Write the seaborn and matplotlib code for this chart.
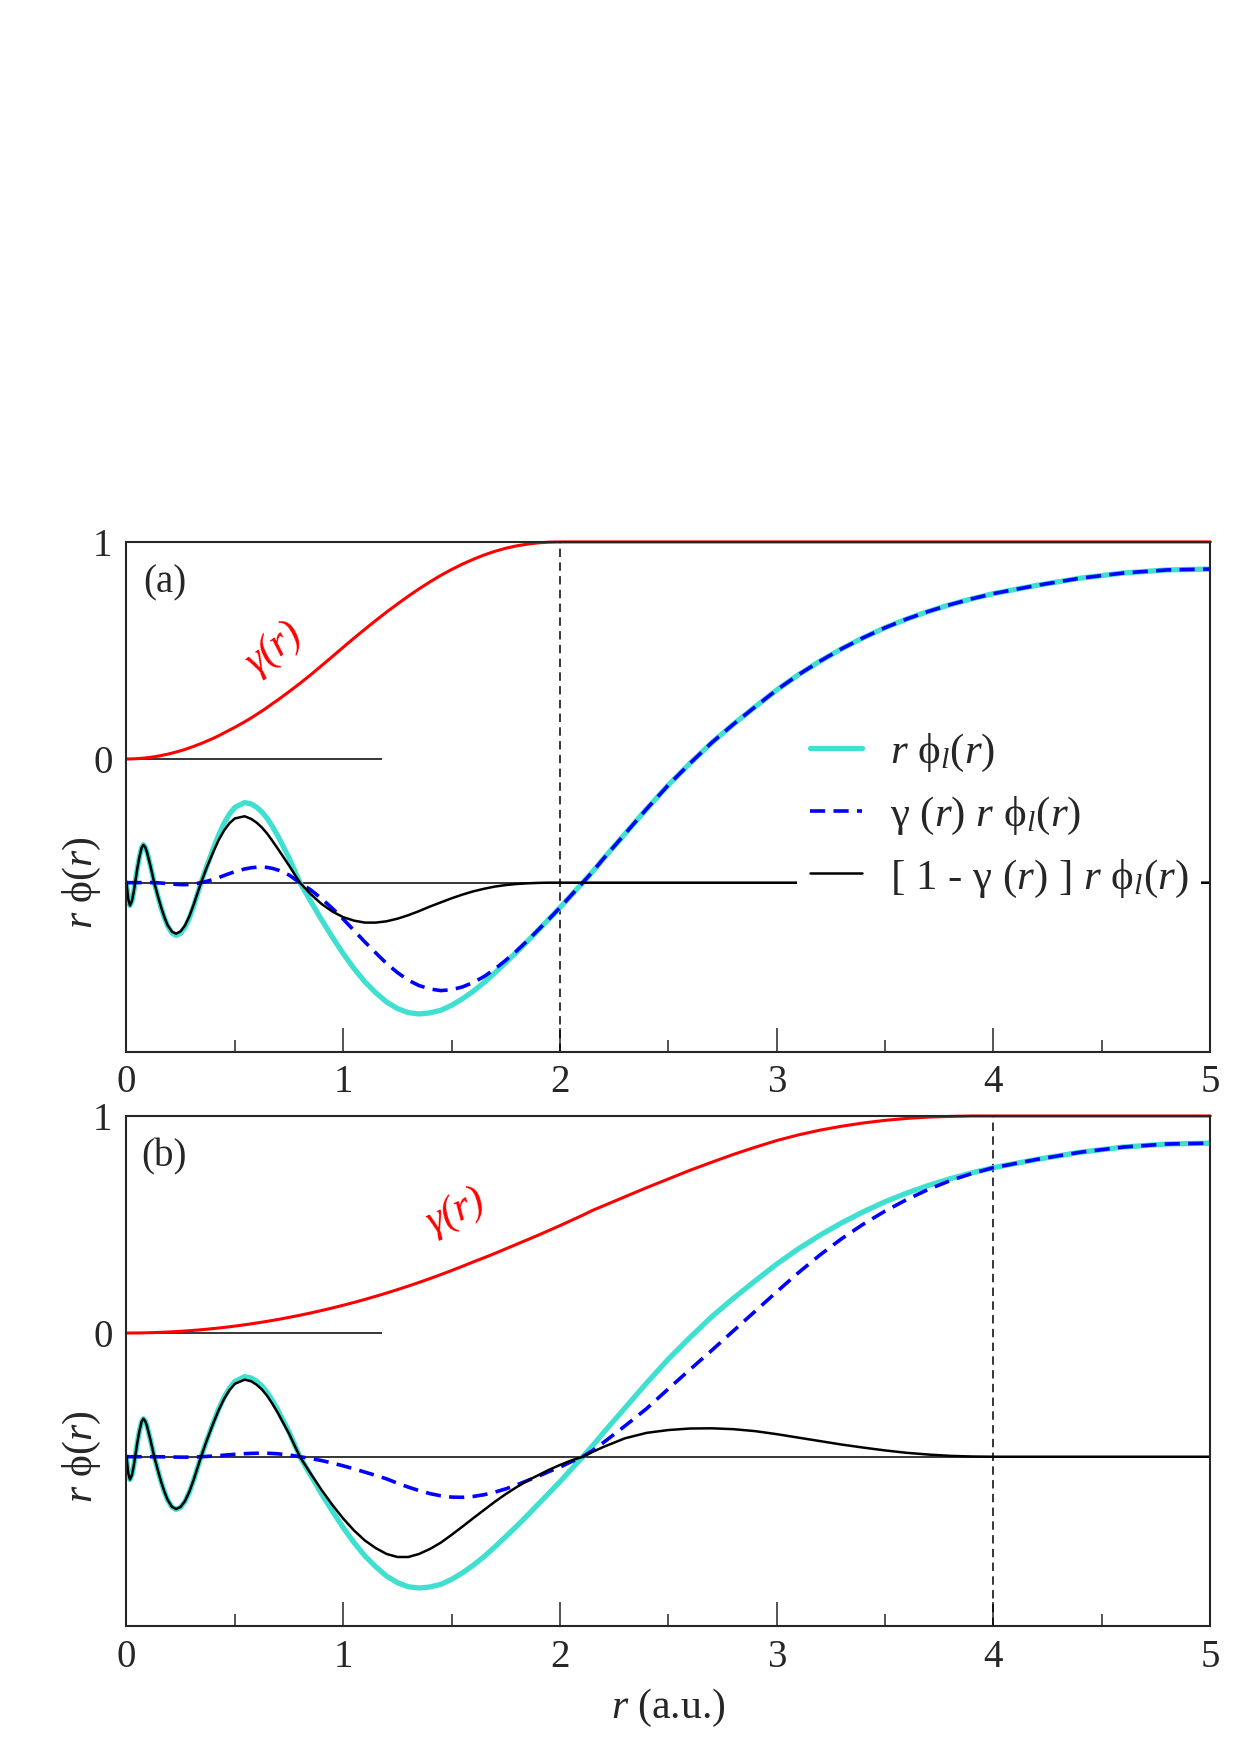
import numpy as np
import pandas as pd
import seaborn as sns
import matplotlib.pyplot as plt
from matplotlib.ticker import MultipleLocator

r_pts = [0, 0.008, 0.016, 0.025, 0.033, 0.04, 0.05, 0.06, 0.07, 0.078,
         0.087, 0.095, 0.11, 0.128, 0.145, 0.16, 0.175, 0.19, 0.21, 0.229,
         0.25, 0.27, 0.29, 0.31, 0.344, 0.37, 0.4, 0.425, 0.45, 0.475,
         0.5, 0.545, 0.575, 0.6, 0.625, 0.65, 0.675, 0.7, 0.75, 0.8,
         0.85, 0.9, 0.95, 1.0, 1.05, 1.1, 1.15, 1.2, 1.25, 1.3,
         1.35, 1.4, 1.45, 1.5, 1.55, 1.6, 1.65, 1.7, 1.75, 1.8,
         1.85, 1.9, 1.95, 2.0, 2.05, 2.105, 2.15, 2.2, 2.3, 2.4,
         2.5, 2.6, 2.7, 2.8, 2.9, 3.0, 3.1, 3.2, 3.3, 3.4,
         3.5, 3.6, 3.7, 3.8, 3.9, 4.0, 4.2, 4.4, 4.6, 4.8,
         5.0]

# r phi_l(r), same wavefunction in both panels
psi = [0, -0.075, -0.105, -0.085, -0.045, 0, 0.065, 0.12, 0.162, 0.175,
       0.163, 0.14, 0.08, 0, -0.063, -0.116, -0.162, -0.2, -0.232, -0.243,
       -0.233, -0.206, -0.163, -0.107, 0, 0.075, 0.156, 0.219, 0.273, 0.316,
       0.347, 0.369, 0.363, 0.348, 0.326, 0.295, 0.256, 0.212, 0.114, 0,
       -0.086, -0.171, -0.251, -0.327, -0.396, -0.457, -0.507, -0.55, -0.58, -0.599,
       -0.605, -0.6, -0.588, -0.565, -0.535, -0.5, -0.46, -0.415, -0.368, -0.32,
       -0.27, -0.218, -0.167, -0.115, -0.06, 0, 0.05, 0.11, 0.225, 0.34,
       0.45, 0.55, 0.645, 0.73, 0.81, 0.888, 0.958, 1.021, 1.078, 1.129,
       1.175, 1.215, 1.25, 1.281, 1.308, 1.332, 1.37, 1.403, 1.427, 1.441,
       1.445]

# panel (a): cutoff radius 2
gamma_a = [0, 0, 0.0002, 0.0004, 0.0007, 0.001, 0.0015, 0.0022, 0.003, 0.0038,
           0.0047, 0.0056, 0.0075, 0.01, 0.013, 0.0157, 0.019, 0.022, 0.027, 0.032,
           0.038, 0.044, 0.051, 0.058, 0.071, 0.082, 0.095, 0.107, 0.12, 0.133,
           0.146, 0.171, 0.189, 0.205, 0.221, 0.238, 0.256, 0.273, 0.31, 0.348,
           0.388, 0.43, 0.472, 0.515, 0.557, 0.598, 0.638, 0.677, 0.714, 0.75,
           0.784, 0.816, 0.846, 0.873, 0.898, 0.92, 0.94, 0.957, 0.971, 0.982,
           0.99, 0.996, 0.999, 1, 1, 1, 1, 1, 1, 1,
           1, 1, 1, 1, 1, 1, 1, 1, 1, 1,
           1, 1, 1, 1, 1, 1, 1, 1, 1, 1,
           1]
cut_a = [0, 0, 0, 0, 0, 0, 0.0001, 0.0003, 0.0005, 0.0007,
         0.0008, 0.0008, 0.0006, 0, -0.0008, -0.0018, -0.003, -0.0044, -0.0063, -0.0078,
         -0.0089, -0.0091, -0.0083, -0.0062, 0, 0.0062, 0.0148, 0.0234, 0.0328, 0.042,
         0.0507, 0.0631, 0.0686, 0.0713, 0.072, 0.0702, 0.0655, 0.0579, 0.0353, 0,
         -0.0334, -0.0735, -0.1185, -0.168, -0.2206, -0.2733, -0.3235, -0.3724, -0.4141, -0.4493,
         -0.4743, -0.4896, -0.4974, -0.4932, -0.4804, -0.46, -0.4324, -0.3972, -0.3573, -0.3142,
         -0.2673, -0.2171, -0.1668, -0.115, -0.06, 0, 0.05, 0.11, 0.225, 0.34,
         0.45, 0.55, 0.645, 0.73, 0.81, 0.888, 0.958, 1.021, 1.078, 1.129,
         1.175, 1.215, 1.25, 1.281, 1.308, 1.332, 1.37, 1.403, 1.427, 1.441,
         1.445]
rest_a = [0, -0.075, -0.105, -0.085, -0.045, 0, 0.065, 0.12, 0.161, 0.174,
          0.162, 0.139, 0.079, 0, -0.062, -0.114, -0.159, -0.196, -0.226, -0.235,
          -0.224, -0.197, -0.155, -0.101, 0, 0.069, 0.141, 0.196, 0.24, 0.274,
          0.296, 0.306, 0.294, 0.277, 0.254, 0.225, 0.19, 0.154, 0.079, 0,
          -0.053, -0.098, -0.133, -0.159, -0.175, -0.184, -0.184, -0.178, -0.166, -0.15,
          -0.131, -0.11, -0.091, -0.072, -0.055, -0.04, -0.028, -0.018, -0.011, -0.006,
          -0.003, -0.001, 0, 0, 0, 0, 0, 0, 0, 0,
          0, 0, 0, 0, 0, 0, 0, 0, 0, 0,
          0, 0, 0, 0, 0, 0, 0, 0, 0, 0,
          0]

# panel (b): cutoff radius 4
gamma_b = [0, 0, 0, 0.0001, 0.0001, 0.0002, 0.0003, 0.0005, 0.0006, 0.0008,
           0.001, 0.0012, 0.0015, 0.0021, 0.0027, 0.0033, 0.0039, 0.0046, 0.0056, 0.0067,
           0.008, 0.0093, 0.0108, 0.0123, 0.0151, 0.0175, 0.0205, 0.0231, 0.0259, 0.0289,
           0.032, 0.038, 0.0423, 0.0461, 0.05, 0.0541, 0.0583, 0.0627, 0.072, 0.0819,
           0.0925, 0.1037, 0.1155, 0.128, 0.1411, 0.1549, 0.1693, 0.1843, 0.2, 0.2163,
           0.2333, 0.2509, 0.2691, 0.288, 0.3075, 0.3277, 0.347, 0.367, 0.388, 0.409,
           0.43, 0.451, 0.473, 0.495, 0.518, 0.543, 0.565, 0.586, 0.628, 0.67,
           0.71, 0.75, 0.787, 0.823, 0.856, 0.887, 0.913, 0.935, 0.953, 0.968,
           0.98, 0.989, 0.995, 0.998, 1.0, 1, 1, 1, 1, 1,
           1]
cut_b = [0, 0, 0, 0, 0, 0, 0, 0, 0, 0,
         0, 0, 0, 0, -0.0002, -0.0004, -0.0006, -0.0009, -0.0013, -0.0016,
         -0.0019, -0.0019, -0.0018, -0.0013, 0, 0.0013, 0.0032, 0.0051, 0.0071, 0.0091,
         0.0111, 0.014, 0.0154, 0.016, 0.0163, 0.016, 0.0149, 0.0133, 0.0082, 0,
         -0.008, -0.0177, -0.029, -0.042, -0.056, -0.071, -0.086, -0.102, -0.122, -0.14,
         -0.156, -0.17, -0.18, -0.186, -0.187, -0.183, -0.175, -0.163, -0.148, -0.13,
         -0.11, -0.09, -0.068, -0.048, -0.024, 0, 0.028, 0.065, 0.142, 0.222,
         0.313, 0.402, 0.49, 0.58, 0.67, 0.76, 0.848, 0.93, 1.005, 1.072,
         1.132, 1.185, 1.232, 1.272, 1.305, 1.332, 1.37, 1.403, 1.427, 1.441,
         1.445]
rest_b = [0, -0.075, -0.105, -0.085, -0.045, 0, 0.065, 0.12, 0.162, 0.175,
          0.163, 0.14, 0.08, 0, -0.063, -0.116, -0.161, -0.199, -0.231, -0.241,
          -0.231, -0.204, -0.161, -0.106, 0, 0.074, 0.153, 0.214, 0.266, 0.307,
          0.336, 0.355, 0.348, 0.332, 0.31, 0.279, 0.241, 0.199, 0.106, 0,
          -0.078, -0.153, -0.222, -0.285, -0.34, -0.386, -0.421, -0.448, -0.462, -0.462,
          -0.448, -0.425, -0.396, -0.36, -0.322, -0.283, -0.245, -0.207, -0.172, -0.14,
          -0.11, -0.085, -0.06, -0.038, -0.018, 0, 0.022, 0.045, 0.085, 0.11,
          0.123, 0.13, 0.131, 0.127, 0.118, 0.104, 0.088, 0.072, 0.056, 0.042,
          0.029, 0.018, 0.01, 0.004, 0.001, 0, 0, 0, 0, 0,
          0]

labels = ["$r$ ϕ$_l$($r$)",
          "γ ($r$) $r$ ϕ$_l$($r$)",
          "[ 1 - γ ($r$) ] $r$ ϕ$_l$($r$)"]

sns.set_style('ticks')
plt.rcParams['font.family'] = ['Liberation Serif', 'DejaVu Serif']
plt.rcParams['mathtext.fontset'] = 'custom'
plt.rcParams['mathtext.rm'] = 'Liberation Serif'
plt.rcParams['mathtext.it'] = 'Liberation Serif:italic'

FS = 28
shift = -0.57  # wavefunctions are drawn offset below the gamma curve

fig = plt.figure(figsize=(12.4, 17.55), dpi=100)
ax_a = fig.add_axes([0.102, 0.4006, 0.874, 0.2906])
ax_b = fig.add_axes([0.102, 0.0735, 0.874, 0.2906])


def panel(ax, gamma, cut, rest, rc, tag, gx, gy, grot):
    df = pd.DataFrame({'r': r_pts,
                       'psi': shift + np.array(psi),
                       'cut': shift + np.array(cut),
                       'rest': shift + np.array(rest),
                       'gamma': gamma})
    ax.axhline(shift, color='k', lw=1.1, zorder=1)
    ax.hlines(0, 0, 1.18, color='k', lw=1.1, zorder=1)
    ax.axvline(rc, color='k', lw=1.1, ls=(0, (5.5, 3.5)), zorder=1)
    sns.lineplot(data=df, x='r', y='psi', color='#40E0D0', lw=3.8,
                 estimator=None, ax=ax)
    h1 = ax.lines[-1]
    sns.lineplot(data=df, x='r', y='cut', color='#0000FF', lw=2.6,
                 ls=(0, (4.2, 2.3)), estimator=None, ax=ax)
    h2 = ax.lines[-1]
    sns.lineplot(data=df, x='r', y='rest', color='k', lw=1.8,
                 estimator=None, ax=ax)
    h3 = ax.lines[-1]
    sns.lineplot(data=df, x='r', y='gamma', color='#FF0000', lw=2.2,
                 estimator=None, ax=ax)
    ax.lines[-1].set_clip_on(False)
    ax.lines[-1].set_zorder(3)

    ax.text(gx, gy, "γ(r)", color='#FF0000', fontsize=30, style='italic',
            rotation=grot, ha='center', va='center', rotation_mode='anchor')
    ax.text(0.035, 0.92, tag, transform=ax.transAxes, fontsize=FS,
            ha='center', va='center')

    ax.set_xlim(0, 5)
    ax.set_ylim(-1.35, 1.0)
    ax.xaxis.set_major_locator(MultipleLocator(1))
    ax.xaxis.set_minor_locator(MultipleLocator(0.5))
    ax.set_yticks([0, 1])
    ax.set_yticklabels(['0', '1'])
    ax.tick_params(axis='x', which='major', direction='in', length=17,
                   width=1.1, labelsize=FS, pad=9, top=False)
    ax.tick_params(axis='x', which='minor', direction='in', length=9,
                   width=1.1, top=False)
    ax.tick_params(axis='y', length=0, labelsize=FS, pad=10, right=False)
    for s in ax.spines.values():
        s.set_linewidth(1.5)
        s.set_zorder(6)  # keep the frame above the legend patch
    ax.set_xlabel('')
    ax.set_ylabel("$r$ ϕ($r$)", fontsize=30)
    ax.yaxis.set_label_coords(-0.022, 0.331)
    return h1, h2, h3


hs = panel(ax_a, gamma_a, cut_a, rest_a, 2, '(a)', 0.68, 0.51, 37)
panel(ax_b, gamma_b, cut_b, rest_b, 4, '(b)', 1.52, 0.56, 25)

leg = ax_a.legend(hs, labels, loc='center left', bbox_to_anchor=(0.619, 0.463),
                  fontsize=31, frameon=True, facecolor='white', edgecolor='none',
                  framealpha=1, fancybox=False, handlelength=1.2,
                  handletextpad=0.65, labelspacing=0.48, borderaxespad=0,
                  borderpad=0.3)
leg.set_zorder(5)
if ax_b.get_legend() is not None:
    ax_b.get_legend().remove()

ax_b.set_xlabel("$r$ (a.u.)", fontsize=30, labelpad=8)

fig.savefig('out.png', dpi=100)
